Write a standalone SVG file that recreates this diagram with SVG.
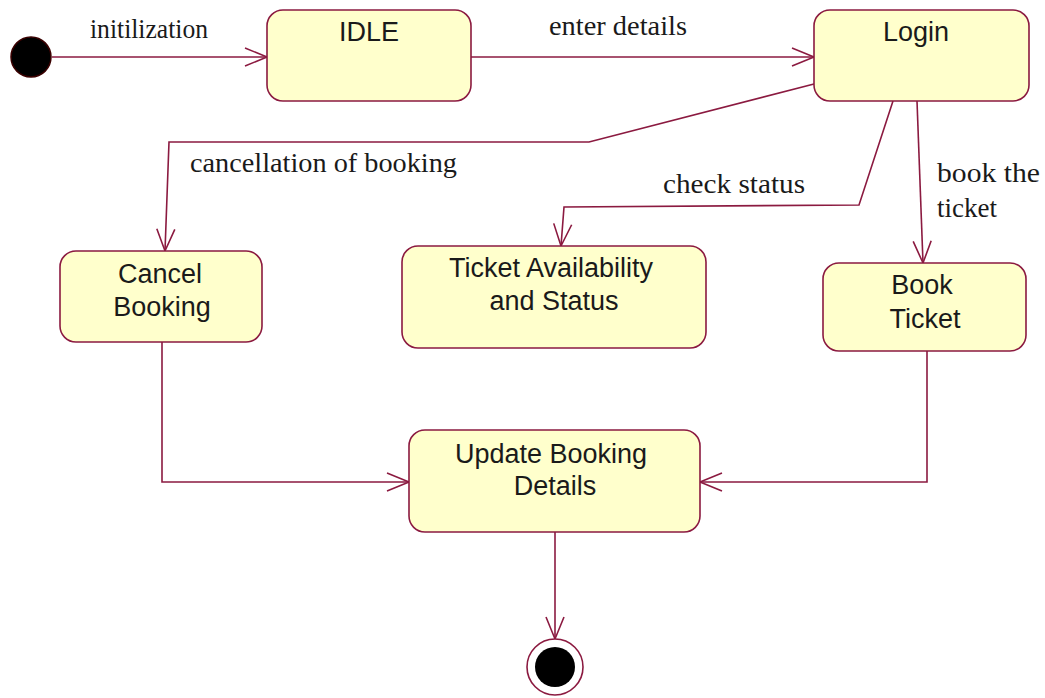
<svg xmlns="http://www.w3.org/2000/svg" width="1045" height="698" viewBox="0 0 1045 698">
<style>
.st{fill:#ffffcc;stroke:#8b1a40;stroke-width:1.6}
.nt{font-family:"Liberation Sans",Arial,sans-serif;font-size:27px;fill:#1a1a1a;text-anchor:middle}
.lb{font-family:"Liberation Serif","Times New Roman",serif;font-size:27px;fill:#1a1a1a}
.cn{fill:none;stroke:#8b1a40;stroke-width:1.6}
</style>
<defs>
<marker id="ah" markerUnits="userSpaceOnUse" markerWidth="26" markerHeight="22" refX="22" refY="10" orient="auto" overflow="visible">
<path d="M0,1 L22,10 L0,19" fill="none" stroke="#8b1a40" stroke-width="1.6"/>
</marker>
</defs>
<rect width="1045" height="698" fill="#ffffff"/>
<g id="connectors">
<line class="cn" x1="52" y1="57" x2="267" y2="57" marker-end="url(#ah)"/>
<line class="cn" x1="471" y1="57" x2="814" y2="57" marker-end="url(#ah)"/>
<polyline class="cn" points="814,84 589,142 169,142 165,251" marker-end="url(#ah)"/>
<polyline class="cn" points="893,101 859,205 564,207 561,246" marker-end="url(#ah)"/>
<polyline class="cn" points="917,101 923,263" marker-end="url(#ah)"/>
<polyline class="cn" points="162,342 162,482 409,482" marker-end="url(#ah)"/>
<polyline class="cn" points="927,351 927,482 700,482" marker-end="url(#ah)"/>
<line class="cn" x1="555" y1="532" x2="555" y2="639" marker-end="url(#ah)"/>
<text class="lb" x="90" y="38" textLength="118" lengthAdjust="spacingAndGlyphs">initilization</text>
<text class="lb" x="549" y="35" textLength="138" lengthAdjust="spacingAndGlyphs">enter details</text>
<text class="lb" x="190" y="172" textLength="267" lengthAdjust="spacingAndGlyphs">cancellation of booking</text>
<text class="lb" x="663" y="193" textLength="142" lengthAdjust="spacingAndGlyphs">check status</text>
<text class="lb" x="937" y="182" textLength="103" lengthAdjust="spacingAndGlyphs">book the</text>
<text class="lb" x="937" y="217">ticket</text>
</g>
<g id="initial">
<circle cx="31" cy="57" r="20" fill="#000000" stroke="#3a0000" stroke-width="1.5"/>
</g>
<g id="idle">
<rect class="st" x="267" y="10" width="204" height="91" rx="16"/>
<text class="nt" x="369" y="41">IDLE</text>
</g>
<g id="login">
<rect class="st" x="814" y="10" width="215" height="91" rx="16"/>
<text class="nt" x="916" y="41">Login</text>
</g>
<g id="cancel">
<rect class="st" x="60" y="251" width="202" height="91" rx="16"/>
<text class="nt" x="160" y="283">Cancel</text>
<text class="nt" x="162" y="316">Booking</text>
</g>
<g id="availability">
<rect class="st" x="402" y="246" width="304" height="102" rx="16"/>
<text class="nt" x="551" y="277">Ticket Availability</text>
<text class="nt" x="554" y="310">and Status</text>
</g>
<g id="book">
<rect class="st" x="823" y="263" width="203" height="88" rx="16"/>
<text class="nt" x="922" y="294">Book</text>
<text class="nt" x="925" y="328">Ticket</text>
</g>
<g id="update">
<rect class="st" x="409" y="430" width="291" height="102" rx="16"/>
<text class="nt" x="551" y="463">Update Booking</text>
<text class="nt" x="555" y="495">Details</text>
</g>
<g id="final">
<circle cx="555" cy="667" r="28" fill="#ffffff" stroke="#8b1a40" stroke-width="1.6"/>
<circle cx="555" cy="667" r="20" fill="#000000"/>
</g>
</svg>
